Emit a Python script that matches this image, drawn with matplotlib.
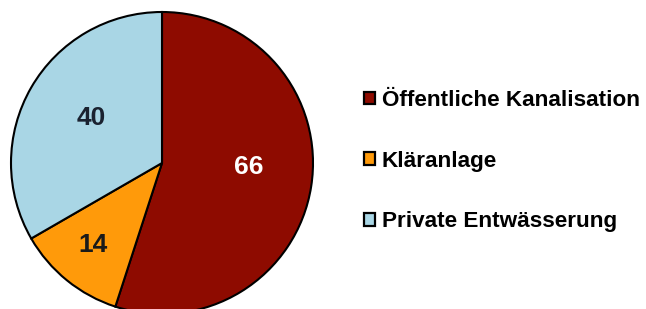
import matplotlib
matplotlib.use("Agg")
import matplotlib.pyplot as plt
from matplotlib.patches import Patch

categories = ["Öffentliche Kanalisation", "Kläranlage", "Private Entwässerung"]
values = [66, 14, 40]
colors = ["#8E0B00", "#FF9A0A", "#A9D6E5"]
label_colors = ["white", "#1A1A1A", "#1A2230"]

W, H = 646, 309
fig = plt.figure(figsize=(W / 100, H / 100), dpi=100)
plt.rcParams['font.family'] = ['Liberation Sans', 'DejaVu Sans']

cx, cy, r = 162, 163, 151
ax = fig.add_axes([(cx - r) / W, (H - cy - r) / H, 2 * r / W, 2 * r / H])
wedges, _ = ax.pie(values, colors=colors, startangle=90, counterclock=False,
                   radius=1.0, wedgeprops=dict(edgecolor="black", linewidth=1.5))
ax.set_xlim(-1, 1)
ax.set_ylim(-1, 1)
ax.set_aspect('equal')
ax.axis('off')

# value label positions (layout, in axes data units)
label_pos = [(0.575, -0.025), (-0.457, -0.54), (-0.467, 0.30)]
for v, (x, y), c in zip(values, label_pos, label_colors):
    ax.text(x, y, str(v), ha='center', va='center', fontsize=19,
            fontweight='bold', color=c)

handles = [Patch(facecolor=c, edgecolor="black", linewidth=1.6) for c in colors]
leg = fig.legend(handles, categories, loc='upper left',
                 bbox_to_anchor=(364 / W, 1 - 90 / H),
                 frameon=False, prop=dict(size=16.2, weight='bold'),
                 handlelength=0.5, handleheight=0.5, handletextpad=0.3,
                 labelspacing=1.76, borderpad=0, borderaxespad=0)

fig.savefig("out.png", dpi=100)
